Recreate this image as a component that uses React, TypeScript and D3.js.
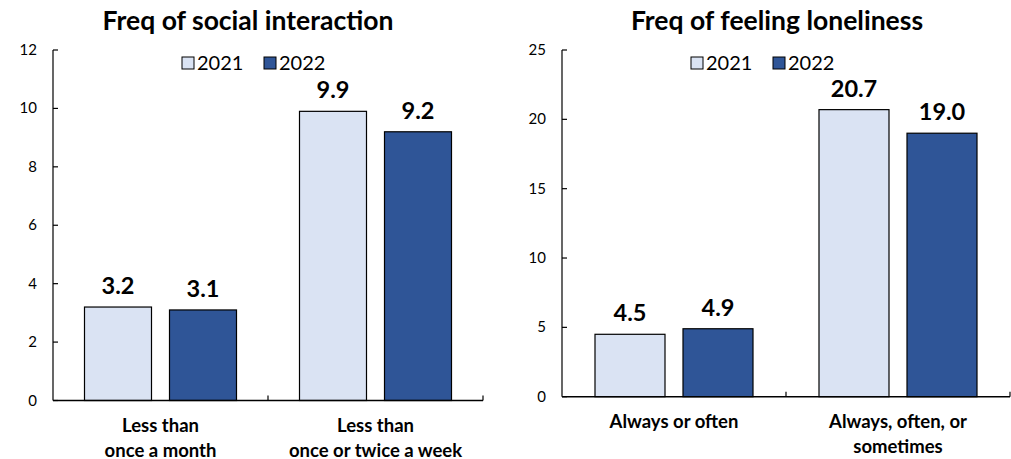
import React from "react";
import * as d3 from "d3";

const seriesNames = ["2021", "2022"];
const seriesColors = ["#dae3f3", "#2f5597"];

const leftTitle = "Freq of social interaction";
const leftCategories = [["Less than", "once a month"], ["Less than", "once or twice a week"]];
const left2021 = [3.2, 9.9];
const left2022 = [3.1, 9.2];
const leftTicks = [0, 2, 4, 6, 8, 10, 12];

const rightTitle = "Freq of feeling loneliness";
const rightCategories = [["Always or often"], ["Always, often, or", "sometimes"]];
const right2021 = [4.5, 20.7];
const right2022 = [4.9, 19.0];
const rightTicks = [0, 5, 10, 15, 20, 25];

const FONT = "Lato, 'Open Sans', sans-serif";

type PanelProps = {
  title: string;
  cats: string[][];
  s1: number[];
  s2: number[];
  ticks: number[];
  x0: number;
  x1: number;
  y0: number;
  y1: number;
  titleX: number;
  legendX: number;
  barW: number;
  gap: number;
};

function Panel(p: PanelProps) {
  const max = p.ticks[p.ticks.length - 1];
  const y = d3.scaleLinear().domain([0, max]).range([p.y0, p.y1]);
  const x = d3.scaleBand<number>().domain(d3.range(p.cats.length)).range([p.x0, p.x1]).padding(0);
  const series = [p.s1, p.s2];
  return (
    <g>
      <text x={p.titleX} y={30} textAnchor="middle" fontFamily={FONT} fontWeight="bold" fontSize={26.5} fill="#000">
        {p.title}
      </text>
      {/* legend */}
      {seriesNames.map((n, i) => {
        const lx = p.legendX + i * 82;
        return (
          <g key={n}>
            <rect x={lx} y={57} width={12} height={12} fill={seriesColors[i]} stroke="#000" strokeWidth={1} />
            <text x={lx + 15} y={69.5} fontFamily={FONT} fontSize={20} fill="#000">{n}</text>
          </g>
        );
      })}
      {/* bars */}
      {p.cats.map((c, ci) => {
        const cx = (x(ci) as number) + x.bandwidth() / 2;
        return series.map((s, si) => {
          const bx = si === 0 ? cx - p.gap / 2 - p.barW : cx + p.gap / 2;
          const v = s[ci];
          return (
            <g key={`${ci}-${si}`}>
              <rect x={bx} y={y(v)} width={p.barW} height={y(0) - y(v)} fill={seriesColors[si]} stroke="#000" strokeWidth={1.2} />
              <text x={bx + p.barW / 2} y={y(v) - 13} textAnchor="middle" fontFamily={FONT} fontWeight="bold" fontSize={23.5} fill="#000">
                {v.toFixed(1)}
              </text>
            </g>
          );
        });
      })}
      {/* y axis */}
      <line x1={p.x0} x2={p.x0} y1={p.y1} y2={p.y0} stroke="#000" strokeWidth={1.2} />
      {p.ticks.map((t) => (
        <g key={t}>
          <line x1={p.x0} x2={p.x0 + 5} y1={y(t)} y2={y(t)} stroke="#000" strokeWidth={1.2} />
          <text x={p.x0 - 16} y={y(t) + 5} textAnchor="end" fontFamily={FONT} fontSize={15} fill="#000">{t}</text>
        </g>
      ))}
      {/* x axis */}
      <line x1={p.x0} x2={p.x1} y1={p.y0} y2={p.y0} stroke="#000" strokeWidth={1.6} />
      {p.cats.map((_, ci) => (
        <line key={ci} x1={(x(ci) as number) + x.bandwidth()} x2={(x(ci) as number) + x.bandwidth()} y1={p.y0} y2={p.y0 - 5} stroke="#000" strokeWidth={1.2} />
      ))}
      {p.cats.map((c, ci) => {
        const cx = (x(ci) as number) + x.bandwidth() / 2;
        return (
          <text key={ci} textAnchor="middle" fontFamily={FONT} fontWeight="bold" fontSize={18.5} fill="#000">
            {c.map((line, li) => (
              <tspan key={li} x={cx} y={p.y0 + 31.5 + li * 24.5}>{line}</tspan>
            ))}
          </text>
        );
      })}
    </g>
  );
}

export default function App() {
  return (
    <svg width={1011} height={459} style={{ position: "absolute", left: 0, top: 0, background: "#fff" }}>
      <rect width={1011} height={459} fill="#fff" />
      <Panel title={leftTitle} cats={leftCategories} s1={left2021} s2={left2022} ticks={leftTicks}
        x0={53} x1={483} y0={400.5} y1={50} titleX={248} legendX={182} barW={67} gap={18} />
      <Panel title={rightTitle} cats={rightCategories} s1={right2021} s2={right2022} ticks={rightTicks}
        x0={562} x1={1010} y0={396.7} y1={50} titleX={777} legendX={691} barW={70} gap={18} />
    </svg>
  );
}
